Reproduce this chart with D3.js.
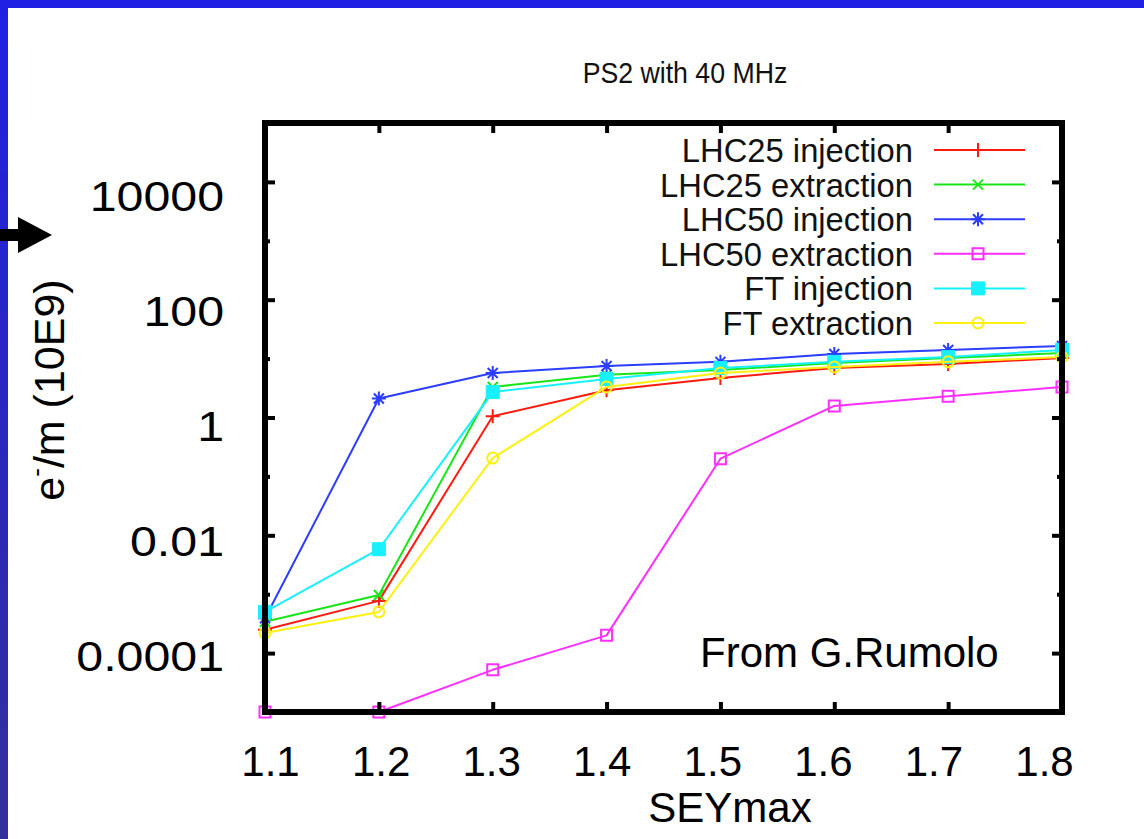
<!DOCTYPE html>
<html>
<head>
<meta charset="utf-8">
<script src="https://cdn.jsdelivr.net/npm/d3@7"></script>
<style>
  html, body { margin: 0; padding: 0; background: #fff; }
  svg { display: block; }
</style>
</head>
<body>
<svg id="chart" width="1144" height="839"></svg>
<script>
// SEYmax sample points
const seyValues = [1.1, 1.2, 1.3, 1.4, 1.5, 1.6, 1.7, 1.8];

// Electron line density e-/m (units of 1e9) for each beam type
const lhc25Injection  = [2.5e-4, 7.7e-4, 1.05, 2.9, 4.7, 6.9, 8.1, 10.2];
const lhc25Extraction = [3.4e-4, 9.7e-4, 3.3, 5.3, 6.4, 8.4, 10.2, 12.4];
const lhc50Injection  = [3.9e-4, 2.1, 5.7, 7.5, 8.8, 12, 14, 16.4];
const lhc50Extraction = [1e-5, 1e-5, 5.2e-5, 2.0e-4, 0.2, 1.57, 2.3, 3.3];
const ftInjection     = [5.0e-4, 5.8e-3, 2.7, 4.5, 6.9, 8.8, 10.6, 14];
const ftExtraction    = [2.2e-4, 5.0e-4, 0.205, 3.3, 5.7, 7.2, 8.8, 10.6];

const seriesNames  = ["LHC25 injection", "LHC25 extraction", "LHC50 injection",
                      "LHC50 extraction", "FT injection", "FT extraction"];
const seriesValues = [lhc25Injection, lhc25Extraction, lhc50Injection,
                      lhc50Extraction, ftInjection, ftExtraction];

// Axis ticks
const xTickValues   = [1.1, 1.2, 1.3, 1.4, 1.5, 1.6, 1.7, 1.8];
const yMajorValues  = [1e-4, 1e-2, 1, 100, 1e4];
const yMinorValues  = [1e-3, 1e-1, 10, 1000];
const yTickLabels   = ["0.0001", "0.01", "1", "100", "10000"];

// Drawing styles per series (gnuplot colour / point order)
const seriesColors  = ["#ff1a10", "#18e618", "#2b3dff", "#ff30ff", "#18f0ff", "#fff010"];
const seriesMarkers = ["plus", "cross", "star", "box", "fbox", "circle"];

const svg = d3.select("#chart");
const FONT = "'Liberation Sans', Arial, Helvetica, sans-serif";

// Plot frame
const frame = { left: 265, right: 1062, top: 123, bottom: 712 };

const x = d3.scaleLinear().domain([1.1, 1.8]).range([frame.left, frame.right]);
const y = d3.scaleLog().domain([1e-5, 1e5]).range([frame.bottom, frame.top]);

// Tick labels sit on their own slightly offset scales
const xLabel = d3.scaleLinear().domain([1.1, 1.8]).range([270, 1044]);
const yLabel = d3.scaleLog().domain([1e-4, 1e4]).range([655, 195]);

// Slide decoration: blue bars on top and left
const defs = svg.append("defs");
const grad = defs.append("linearGradient").attr("id", "sideBar")
  .attr("x1", 0).attr("y1", 0).attr("x2", 0).attr("y2", 1);
grad.append("stop").attr("offset", "0%").attr("stop-color", "#2020e4");
grad.append("stop").attr("offset", "100%").attr("stop-color", "#332f9a");

svg.append("rect").attr("x", 0).attr("y", 0).attr("width", 1144).attr("height", 8)
  .attr("fill", "#2020e4");
svg.append("rect").attr("x", 0).attr("y", 0).attr("width", 8).attr("height", 839)
  .attr("fill", "url(#sideBar)");

// Pointer arrow
svg.append("path")
  .attr("d", "M0,229 H18 V217 L52,235 L18,253 V241 H0 Z")
  .attr("fill", "#000");

// Helper: stretch/condense a text node to a given factor of its natural width
function stretch(sel, factor) {
  sel.each(function () {
    const w = this.getComputedTextLength();
    d3.select(this).attr("textLength", w * factor).attr("lengthAdjust", "spacingAndGlyphs");
  });
}

// Title
svg.append("text")
  .attr("x", 685).attr("y", 83)
  .attr("text-anchor", "middle")
  .attr("font-family", FONT).attr("font-size", 29)
  .attr("fill", "#111")
  .text("PS2 with 40 MHz")
  .call(stretch, 0.92);

// Marker shapes
function markerPath(type) {
  const p = d3.path();
  switch (type) {
    case "plus":
      p.moveTo(-7, 0); p.lineTo(7, 0); p.moveTo(0, -7); p.lineTo(0, 7); break;
    case "cross":
      p.moveTo(-5, -5); p.lineTo(5, 5); p.moveTo(-5, 5); p.lineTo(5, -5); break;
    case "star":
      p.moveTo(-7, 0); p.lineTo(7, 0); p.moveTo(0, -7); p.lineTo(0, 7);
      p.moveTo(-5, -5); p.lineTo(5, 5); p.moveTo(-5, 5); p.lineTo(5, -5); break;
    case "box":
      p.rect(-5.5, -5.5, 11, 11); break;
    case "fbox":
      p.rect(-6.5, -6.5, 13, 13); break;
    case "circle":
      p.arc(0, 0, 5.5, 0, 2 * Math.PI); break;
  }
  return p.toString();
}
function drawMarker(g, type, color) {
  const filled = type === "fbox";
  g.append("path")
    .attr("d", markerPath(type))
    .attr("fill", filled ? color : "none")
    .attr("stroke", color)
    .attr("stroke-width", filled ? 1 : 2);
}

// Data lines
const line = d3.line()
  .x(d => x(d[0]))
  .y(d => y(d[1]));

const plot = svg.append("g").attr("class", "series");
seriesValues.forEach((vals, i) => {
  const pts = seyValues.map((s, j) => [s, vals[j]]);
  const g = plot.append("g");
  g.append("path")
    .attr("d", line(pts))
    .attr("fill", "none")
    .attr("stroke", seriesColors[i])
    .attr("stroke-width", 2)
    .attr("stroke-linejoin", "round");
  pts.forEach(p => {
    const m = g.append("g").attr("transform", `translate(${x(p[0])},${y(p[1])})`);
    drawMarker(m, seriesMarkers[i], seriesColors[i]);
  });
});

// Tick marks (inward, mirrored on all sides)
function tickAxis(axis, tx, ty) {
  const g = svg.append("g").attr("transform", `translate(${tx},${ty})`).call(axis);
  g.select(".domain").remove();
  g.selectAll(".tick line").attr("stroke", "#000").attr("stroke-width", 4);
  g.selectAll(".tick text").remove();
  return g;
}
tickAxis(d3.axisBottom(x).tickValues(xTickValues).tickSize(-10), 0, frame.bottom);
tickAxis(d3.axisTop(x).tickValues(xTickValues).tickSize(-10), 0, frame.top);
tickAxis(d3.axisLeft(y).tickValues(yMajorValues).tickSize(-10), frame.left, 0);
tickAxis(d3.axisLeft(y).tickValues(yMinorValues).tickSize(-5), frame.left, 0);
tickAxis(d3.axisRight(y).tickValues(yMajorValues).tickSize(-10), frame.right, 0);
tickAxis(d3.axisRight(y).tickValues(yMinorValues).tickSize(-5), frame.right, 0);

// Frame border
svg.append("rect")
  .attr("x", frame.left).attr("y", frame.top)
  .attr("width", frame.right - frame.left).attr("height", frame.bottom - frame.top)
  .attr("fill", "none").attr("stroke", "#000").attr("stroke-width", 6);

// Y tick labels
const yAxisLabels = svg.append("g").attr("transform", "translate(224,0)")
  .call(d3.axisLeft(yLabel).tickValues(yMajorValues).tickSize(0).tickPadding(0)
    .tickFormat((d, i) => yTickLabels[i]));
yAxisLabels.select(".domain").remove();
yAxisLabels.selectAll("text")
  .attr("font-family", FONT).attr("font-size", 42).attr("fill", "#000")
  .attr("dy", "0.36em")
  .call(stretch, 1.15);

// X tick labels
const xAxisLabels = svg.append("g").attr("transform", "translate(0,776)")
  .call(d3.axisBottom(xLabel).tickValues(xTickValues).tickSize(0).tickPadding(0)
    .tickFormat(d3.format(".1f")));
xAxisLabels.select(".domain").remove();
xAxisLabels.selectAll("text")
  .attr("font-family", FONT).attr("font-size", 42).attr("fill", "#000")
  .attr("y", 0).attr("dy", 0);

// Axis titles
svg.append("text")
  .attr("x", 730).attr("y", 822)
  .attr("text-anchor", "middle")
  .attr("font-family", FONT).attr("font-size", 42).attr("fill", "#000")
  .text("SEYmax");

const yTitle = svg.append("text")
  .attr("transform", "translate(64,390) rotate(-90)")
  .attr("text-anchor", "middle")
  .attr("font-family", FONT).attr("font-size", 43).attr("fill", "#000");
yTitle.append("tspan").text("e");
yTitle.append("tspan").attr("font-size", 26).attr("dy", "-0.75em").text("-");
yTitle.append("tspan").attr("dy", "0.45em").text("/m (10E9)");

// Credit
svg.append("text")
  .attr("x", 700).attr("y", 667)
  .attr("font-family", FONT).attr("font-size", 42).attr("fill", "#000")
  .text("From G.Rumolo");

// Legend
const legend = svg.append("g").attr("class", "legend");
const legendRows = d3.scaleLinear().domain([0, 5]).range([150, 323]);
seriesNames.forEach((name, i) => {
  const cy = legendRows(i);
  legend.append("text")
    .attr("x", 913).attr("y", cy + 12)
    .attr("text-anchor", "end")
    .attr("font-family", FONT).attr("font-size", 34).attr("fill", "#111")
    .text(name)
    .call(stretch, 0.963);
  legend.append("line")
    .attr("x1", 934).attr("x2", 1025).attr("y1", cy).attr("y2", cy)
    .attr("stroke", seriesColors[i]).attr("stroke-width", 2);
  const m = legend.append("g").attr("transform", `translate(978,${cy})`);
  drawMarker(m, seriesMarkers[i], seriesColors[i]);
});
</script>
</body>
</html>
